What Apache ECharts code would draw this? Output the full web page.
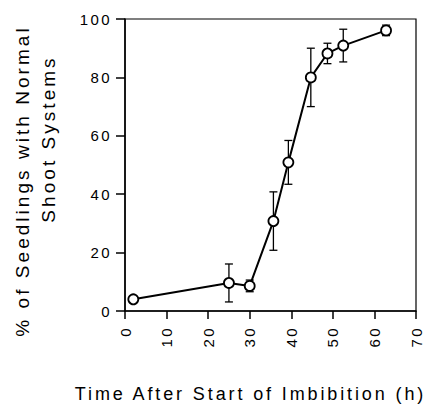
<!DOCTYPE html>
<html>
<head>
<meta charset="utf-8">
<script src="https://cdn.jsdelivr.net/npm/echarts@6/dist/echarts.min.js"></script>
<style>
  html, body { margin: 0; padding: 0; background: #fff; }
  #chart { width: 431px; height: 406px; }
  /* the original figure uses a wide letter tracking */
  #chart text { letter-spacing: 0.16em; }
</style>
</head>
<body>
<div id="chart"></div>
<script>
// hours after start of imbibition
var hours = [2, 25, 30, 35.7, 39.3, 44.7, 48.7, 52.5, 62.8];
// % seedlings with normal shoot systems
var percent = [4, 9.6, 8.6, 30.8, 50.9, 80, 88.2, 90.9, 96.1];
// error bar half-widths
var errors = [0, 6.5, 2, 10, 7.5, 10, 3.5, 5.6, 1.8];
var xTicks = [0, 10, 20, 30, 40, 50, 60, 70];
var yTicks = [0, 20, 40, 60, 80, 100];

var chartDom = document.getElementById('chart');
var myChart = echarts.init(chartDom, null, { renderer: 'svg' });

var points = hours.map(function (h, i) { return [h, percent[i]]; });
var errData = hours.map(function (h, i) {
  return [h, percent[i] - errors[i], percent[i] + errors[i]];
}).filter(function (d) { return d[2] - d[1] > 0; });

var font = 'Liberation Sans, Arial, Helvetica, sans-serif';

var option = {
  animation: false,
  grid: {
    left: 125,
    right: 15,
    top: 19,
    bottom: 95,
    outerBoundsMode: 'none',
    show: true,
    borderColor: '#000',
    borderWidth: 1.2
  },
  graphic: [
    {
      type: 'text',
      x: 22,
      y: 181,
      rotation: Math.PI / 2,
      style: {
        text: '% of Seedlings with Normal',
        fill: '#000',
        font: '19px ' + font,
        textAlign: 'center',
        textVerticalAlign: 'middle'
      }
    },
    {
      type: 'text',
      x: 48,
      y: 139,
      rotation: Math.PI / 2,
      style: {
        text: 'Shoot Systems',
        fill: '#000',
        font: '19px ' + font,
        textAlign: 'center',
        textVerticalAlign: 'middle'
      }
    }
  ],
  xAxis: {
    type: 'value',
    min: 0,
    max: 70,
    interval: 10,
    name: 'Time After Start of Imbibition (h)',
    nameLocation: 'middle',
    nameGap: 74,
    nameTextStyle: { color: '#000', fontSize: 18, fontFamily: font, padding: [0, 0, 0, -40] },
    axisLine: { show: true, lineStyle: { color: '#000', width: 1.5 } },
    axisTick: { show: true, length: 8, lineStyle: { color: '#000', width: 1.5 } },
    axisLabel: {
      rotate: 90,
      color: '#000',
      fontSize: 15,
      fontFamily: font,
      margin: 15,
      formatter: function (v) { return xTicks.indexOf(v) >= 0 ? String(v) : ''; }
    },
    splitLine: { show: false }
  },
  yAxis: {
    type: 'value',
    min: 0,
    max: 100,
    interval: 20,
    axisLine: { show: true, lineStyle: { color: '#000', width: 1.5 } },
    axisTick: { show: true, length: 9, lineStyle: { color: '#000', width: 1.5 } },
    axisLabel: {
      color: '#000',
      fontSize: 15,
      fontFamily: font,
      margin: 13,
      formatter: function (v) { return yTicks.indexOf(v) >= 0 ? String(v) : ''; }
    },
    splitLine: { show: false }
  },
  series: [
    {
      type: 'custom',
      data: errData,
      z: 1,
      renderItem: function (params, api) {
        var x = api.value(0);
        var lo = api.coord([x, api.value(1)]);
        var hi = api.coord([x, api.value(2)]);
        var cap = 4;
        var style = { stroke: '#000', lineWidth: 1.3 };
        return {
          type: 'group',
          children: [
            { type: 'line', shape: { x1: lo[0], y1: lo[1], x2: hi[0], y2: hi[1] }, style: style },
            { type: 'line', shape: { x1: lo[0] - cap, y1: lo[1], x2: lo[0] + cap, y2: lo[1] }, style: style },
            { type: 'line', shape: { x1: hi[0] - cap, y1: hi[1], x2: hi[0] + cap, y2: hi[1] }, style: style }
          ]
        };
      }
    },
    {
      type: 'line',
      data: points,
      z: 2,
      symbol: 'circle',
      symbolSize: 10,
      lineStyle: { color: '#000', width: 2 },
      itemStyle: { color: '#fff', borderColor: '#000', borderWidth: 1.8 }
    }
  ]
};

option && myChart.setOption(option);
</script>
</body>
</html>
